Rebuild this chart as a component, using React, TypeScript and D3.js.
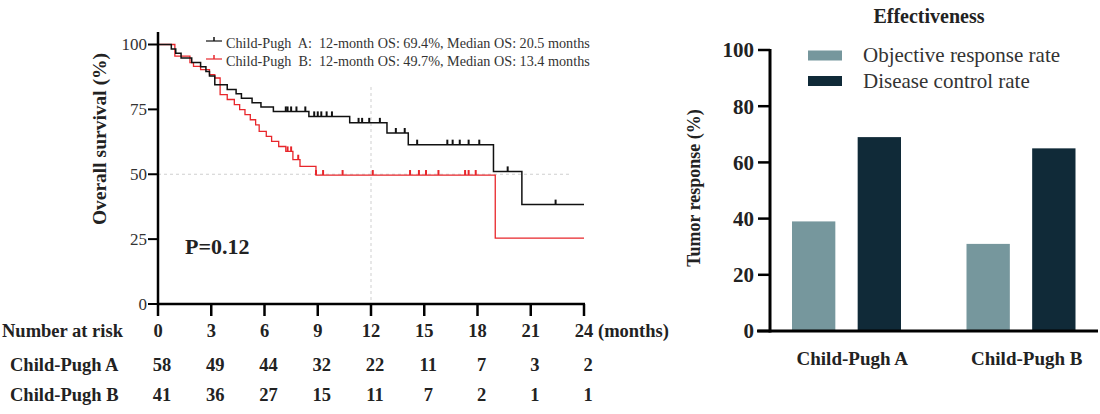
import React from 'react';
import * as d3 from 'd3';

// ---------- Data ----------
const monthTicks = [0, 3, 6, 9, 12, 15, 18, 21, 24];
const survTicks = [0, 25, 50, 75, 100];
const riskA = [58, 49, 44, 32, 22, 11, 7, 3, 2];
const riskB = [41, 36, 27, 15, 11, 7, 2, 1, 1];

const timesA = [0, 0.75, 1.0, 1.3, 1.9, 2.4, 2.7, 2.9, 3.2, 3.9, 4.4, 4.7, 5.3, 5.8, 6.5, 8.5, 10.8, 12.9, 14.1, 18.9, 20.5];
const survA = [100, 98.3, 96.6, 94.8, 93.1, 91.4, 89.6, 87.9, 84.5, 82.7, 81.0, 79.3, 77.6, 75.9, 74.2, 72.3, 69.8, 65.9, 61.4, 51.1, 38.3];
const censorA = [7.2, 7.3, 7.5, 7.8, 8.3, 8.8, 9.0, 9.2, 9.5, 9.8, 11.3, 11.5, 11.9, 12.5, 13.4, 13.9, 14.6, 16.3, 16.6, 17.0, 17.5, 18.1, 19.7, 22.4];

const timesB = [0, 0.95, 1.8, 2.0, 2.4, 2.9, 3.2, 3.5, 3.9, 4.3, 4.6, 4.9, 5.2, 5.5, 5.7, 6.1, 6.4, 6.8, 7.2, 7.6, 8.0, 8.9, 19.0];
const survB = [100, 95.5, 93.0, 91.6, 90.3, 88.4, 87.1, 80.7, 78.8, 76.8, 74.9, 73.0, 71.0, 69.0, 66.5, 64.6, 62.7, 60.7, 58.8, 55.6, 53.0, 49.7, 25.4];
const censorB = [7.3, 7.5, 7.9, 8.9, 9.3, 10.4, 12.1, 14.2, 14.7, 15.1, 15.8, 17.3, 17.5, 17.9];

const legendA = 'Child-Pugh  A:  12-month OS: 69.4%, Median OS: 20.5 months';
const legendB = 'Child-Pugh  B:  12-month OS: 49.7%, Median OS: 13.4 months';

const groups = ['Child-Pugh A', 'Child-Pugh B'];
const seriesNames = ['Objective response rate', 'Disease control rate'];
const orrValues = [39, 31];
const dcrValues = [69, 65];
const barTicks = [0, 20, 40, 60, 80, 100];

// ---------- Style ----------
const FONT = "'Liberation Serif', 'Times New Roman', serif";
const BLACK = '#111111';
const RED = '#e8262b';
const ORR_COLOR = '#76979d';
const DCR_COLOR = '#102a38';

function stepValue(times: number[], surv: number[], t: number) {
  let v = surv[0];
  for (let i = 0; i < times.length; i++) if (times[i] <= t) v = surv[i];
  return v;
}

export default function App() {
  const x = d3.scaleLinear().domain([0, 24]).range([158, 584]);
  const y = d3.scaleLinear().domain([0, 100]).range([304, 44.5]);

  const line = d3
    .line<[number, number]>()
    .x((d) => x(d[0]))
    .y((d) => y(d[1]))
    .curve(d3.curveStepAfter);

  const ptsA: [number, number][] = timesA.map((t, i) => [t, survA[i]]);
  ptsA.push([24, survA[survA.length - 1]]);
  const ptsB: [number, number][] = timesB.map((t, i) => [t, survB[i]]);
  ptsB.push([24, survB[survB.length - 1]]);

  // bar chart scales
  const yb = d3.scaleLinear().domain([0, 100]).range([331, 50]);
  const x0 = d3.scaleBand<string>().domain(groups).range([759, 1108]).padding(0);
  const x1 = d3
    .scaleBand<string>()
    .domain(seriesNames)
    .range([33, 142])
    .paddingInner(0.34)
    .paddingOuter(0);
  const barColors = [ORR_COLOR, DCR_COLOR];
  const barData = [orrValues, dcrValues];

  const rowY = { header: 337, a: 371, b: 401 };

  return (
    <svg
      width={1100}
      height={414}
      style={{ position: 'absolute', left: 0, top: 0, background: '#fff' }}
      fontFamily={FONT}
    >
      {/* ===== KM panel ===== */}
      <line x1={x(0)} x2={572} y1={y(50)} y2={y(50)} stroke="#cfcfcf" strokeWidth={1} strokeDasharray="3,3" />
      <line x1={x(12)} x2={x(12)} y1={87} y2={y(0)} stroke="#cfcfcf" strokeWidth={1} strokeDasharray="3,3" />

      <path d={line(ptsB) || ''} fill="none" stroke={RED} strokeWidth={1.3} />
      <path d={line(ptsA) || ''} fill="none" stroke={BLACK} strokeWidth={1.5} />
      {censorB.map((t, i) => {
        const v = stepValue(timesB, survB, t);
        return <line key={'cb' + i} x1={x(t)} x2={x(t)} y1={y(v)} y2={y(v) - 5} stroke={RED} strokeWidth={2} />;
      })}
      {censorA.map((t, i) => {
        const v = stepValue(timesA, survA, t);
        return <line key={'ca' + i} x1={x(t)} x2={x(t)} y1={y(v)} y2={y(v) - 5} stroke={BLACK} strokeWidth={2} />;
      })}

      <line x1={x(0)} x2={x(0)} y1={32} y2={y(0) + 1} stroke="#000" strokeWidth={2.5} />
      <line x1={x(0) - 1} x2={x(24) + 1} y1={y(0)} y2={y(0)} stroke="#000" strokeWidth={2.5} />
      {survTicks.map((t) => (
        <g key={'yt' + t}>
          <line x1={x(0) - 10} x2={x(0)} y1={y(t)} y2={y(t)} stroke="#000" strokeWidth={2} />
          <text x={x(0) - 11} y={y(t)} dy="0.35em" textAnchor="end" fontSize={17} fill="#333">
            {t}
          </text>
        </g>
      ))}
      {monthTicks.map((t) => (
        <line key={'xt' + t} x1={x(t)} x2={x(t)} y1={y(0)} y2={y(0) + 12} stroke="#000" strokeWidth={2.5} />
      ))}
      <text
        transform={`translate(106,139) rotate(-90)`}
        textAnchor="middle"
        fontSize={19.5}
        fontWeight="bold"
        fill="#222"
      >
        Overall survival (%)
      </text>

      {/* legend */}
      <line x1={206} x2={222} y1={41} y2={41} stroke={BLACK} strokeWidth={1.2} />
      <line x1={214} x2={214} y1={37} y2={41} stroke={BLACK} strokeWidth={1.5} />
      <line x1={206} x2={222} y1={59} y2={59} stroke={RED} strokeWidth={1.2} />
      <line x1={214} x2={214} y1={55} y2={59} stroke={RED} strokeWidth={1.5} />
      <text x={226} y={48} fontSize={14.2} fill="#333" style={{ whiteSpace: 'pre' }}>
        {legendA}
      </text>
      <text x={226} y={66} fontSize={14.2} fill="#333" style={{ whiteSpace: 'pre' }}>
        {legendB}
      </text>

      <text x={185} y={254} fontSize={22} fontWeight="bold" fill="#222">
        P=0.12
      </text>

      {/* number at risk table */}
      <g fontWeight="bold" fontSize={18.5} fill="#222">
        <text x={2} y={rowY.header}>Number at risk</text>
        {monthTicks.map((t) => (
          <text key={'h' + t} x={x(t)} y={rowY.header} textAnchor="middle">
            {t}
          </text>
        ))}
        <text x={x(24) + 14} y={rowY.header}>(months)</text>
        <text x={10} y={rowY.a}>Child-Pugh A</text>
        {riskA.map((v, i) => (
          <text key={'ra' + i} x={x(monthTicks[i]) + 4} y={rowY.a} textAnchor="middle">
            {v}
          </text>
        ))}
        <text x={10} y={rowY.b}>Child-Pugh B</text>
        {riskB.map((v, i) => (
          <text key={'rb' + i} x={x(monthTicks[i]) + 4} y={rowY.b} textAnchor="middle">
            {v}
          </text>
        ))}
      </g>

      {/* ===== Bar panel ===== */}
      <text x={929} y={23} textAnchor="middle" fontSize={20} fontWeight="bold" fill="#222">
        Effectiveness
      </text>
      {groups.map((g, gi) =>
        seriesNames.map((s, si) => {
          const v = barData[si][gi];
          const bx = (x0(g) || 0) + (x1(s) || 0);
          return (
            <rect
              key={g + s}
              x={bx}
              y={yb(v)}
              width={x1.bandwidth()}
              height={yb(0) - yb(v)}
              fill={barColors[si]}
            />
          );
        })
      )}
      <line x1={770} x2={770} y1={yb(100) - 1} y2={yb(0) + 1.5} stroke="#000" strokeWidth={3} />
      <line x1={757} x2={1098} y1={yb(0)} y2={yb(0)} stroke="#000" strokeWidth={3} />
      {barTicks.map((t) => (
        <g key={'bt' + t}>
          <line x1={758} x2={770} y1={yb(t)} y2={yb(t)} stroke="#000" strokeWidth={2.5} />
          <text x={754} y={yb(t)} dy="0.35em" textAnchor="end" fontSize={21} fontWeight="bold" fill="#222">
            {t}
          </text>
        </g>
      ))}
      {groups.map((g) => (
        <text
          key={'gl' + g}
          x={(x0(g) || 0) + x0.bandwidth() / 2 + 6}
          y={365}
          textAnchor="middle"
          fontSize={19}
          fontWeight="bold"
          fill="#222"
        >
          {g}
        </text>
      ))}
      <text
        transform={`translate(700,188) rotate(-90)`}
        textAnchor="middle"
        fontSize={18}
        fontWeight="bold"
        fill="#222"
      >
        Tumor response (%)
      </text>

      {seriesNames.map((s, i) => (
        <g key={'lg' + s}>
          <rect x={808} y={50.5 + i * 25.5} width={34} height={10} fill={barColors[i]} />
          <text x={863} y={62 + i * 25.5} fontSize={21} fill="#333">
            {s}
          </text>
        </g>
      ))}
    </svg>
  );
}
